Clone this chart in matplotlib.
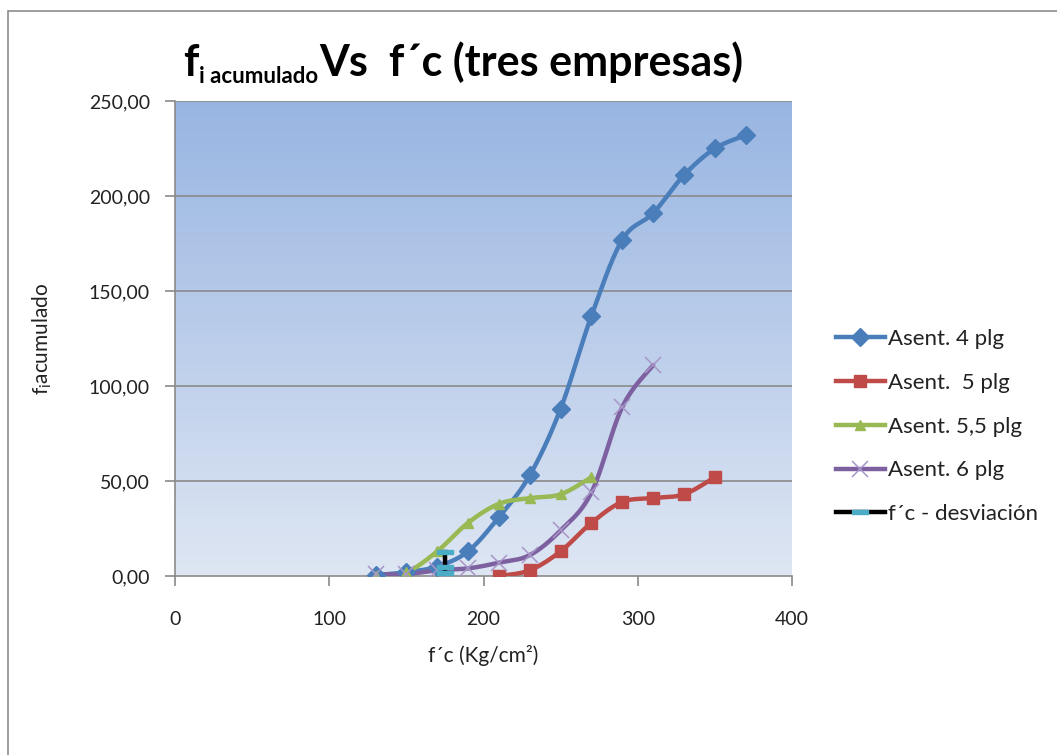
import numpy as np
import matplotlib
matplotlib.use("Agg")
import matplotlib.pyplot as plt
from matplotlib.path import Path
from matplotlib.patches import Rectangle
from matplotlib.lines import Line2D

plt.rcParams['font.family'] = ['Lato', 'DejaVu Sans']

# ---- data ----
fc_4 = [130, 150, 170, 190, 210, 230, 250, 270, 290, 310, 330, 350, 370]
fi_4 = [0.5, 2, 5, 13, 31, 53, 88, 137, 177, 191, 211, 225, 232]

fc_5 = [210, 230, 250, 270, 290, 310, 330, 350]
fi_5 = [0, 3, 13, 28, 39, 41, 43, 52]

fc_55 = [130, 150, 170, 190, 210, 230, 250, 270]
fi_55 = [0, 2, 13, 28, 38, 41, 43, 52]

fc_6 = [130, 150, 170, 190, 210, 230, 250, 270, 290, 310]
fi_6 = [1, 1, 3, 4, 7, 11, 24, 44, 89, 111]

fc_desv = [175, 175, 175]
fi_desv = [12.5, 4.5, 1.5]

labels = ["Asent. 4 plg", "Asent.  5 plg", "Asent. 5,5 plg", "Asent. 6 plg", "f\u00b4c - desviaci\u00f3n"]
x_ticks = [0, 100, 200, 300, 400]
y_ticks = [0, 50, 100, 150, 200, 250]
y_tick_labels = ["0,00", "50,00", "100,00", "150,00", "200,00", "250,00"]

TXT = '#222222'
GRID = '#8a8a8a'


def smooth(xs, ys, n=24):
    """Catmull-Rom curve through the points (spreadsheet-style smoothed line)."""
    p = np.column_stack([xs, ys]).astype(float)
    if len(p) < 3:
        return p[:, 0], p[:, 1]
    ext = np.vstack([p[0], p, p[-1]])
    out = []
    t = np.linspace(0, 1, n, endpoint=False)[:, None]
    for i in range(1, len(ext) - 2):
        p0, p1, p2, p3 = ext[i - 1], ext[i], ext[i + 1], ext[i + 2]
        seg = 0.5 * ((2 * p1) + (-p0 + p2) * t + (2 * p0 - 5 * p1 + 4 * p2 - p3) * t ** 2
                     + (-p0 + 3 * p1 - 3 * p2 + p3) * t ** 3)
        out.append(seg)
    out.append(p[-1][None, :])
    out = np.vstack(out)
    return out[:, 0], out[:, 1]


fig = plt.figure(figsize=(10.57, 7.55), dpi=100)
fig.patch.set_facecolor('white')

# outer chart frame
fig.add_artist(Rectangle((8 / 1057, -0.05), 1.2, 1 - 11 / 755 + 0.05, transform=fig.transFigure,
                         fill=False, edgecolor='#8c8c8c', linewidth=1.2))

ax = fig.add_axes([175 / 1057, 1 - 576 / 755, (792 - 175) / 1057, (576 - 101) / 755])

# gradient plot area
top = np.array([0x98, 0xB5, 0xE2]) / 255
bot = np.array([0xDE, 0xE6, 0xF3]) / 255
g = np.linspace(0, 1, 256)[:, None]
grad = (top[None, :] * (1 - g) + bot[None, :] * g)[:, None, :]
ax.imshow(grad, extent=[0, 1, 0, 1], transform=ax.transAxes, aspect='auto', zorder=0)

ax.set_xlim(0, 400)
ax.set_ylim(0, 250)

for yv in y_ticks[1:]:
    ax.axhline(yv, color=GRID, lw=1.2, zorder=1)

lw = 3.2
# Asent. 4 plg
sx, sy = smooth(fc_4, fi_4)
ax.plot(sx, sy, color='#4A7EBB', lw=lw, zorder=3, solid_capstyle='round')
ax.plot(fc_4, fi_4, ls='none', marker='D', ms=9, color='#4A7EBB', zorder=3.1)
# Asent. 5 plg
sx, sy = smooth(fc_5, fi_5)
ax.plot(sx, sy, color='#BE4B48', lw=lw, zorder=3, solid_capstyle='round')
ax.plot(fc_5, fi_5, ls='none', marker='s', ms=8, color='#BE4B48', zorder=3.1)
# Asent. 5,5 plg
sx, sy = smooth(fc_55, fi_55)
ax.plot(sx, sy, color='#98B954', lw=lw, zorder=3, solid_capstyle='round')
ax.plot(fc_55, fi_55, ls='none', marker='^', ms=7, color='#98B954', zorder=3.1)
# Asent. 6 plg
sx, sy = smooth(fc_6, fi_6)
ax.plot(sx, sy, color='#7D60A0', lw=lw, zorder=3, solid_capstyle='round')
ax.plot(fc_6, fi_6, ls='none', marker='x', ms=12, mew=1.1, color='#A896C8', zorder=3.1)

# f'c - desviacion
dash = Path([(-1, -0.32), (1, -0.32), (1, 0.32), (-1, 0.32), (-1, -0.32)],
            [Path.MOVETO, Path.LINETO, Path.LINETO, Path.LINETO, Path.CLOSEPOLY])
ax.plot(fc_desv, fi_desv, color='black', lw=lw, zorder=4)
ax.plot(fc_desv, fi_desv, ls='none', marker=dash, ms=11, color='#4BACC6', mec='#4BACC6', zorder=4.1)

# legend
handles = [
    Line2D([], [], color='#4A7EBB', lw=lw, marker='D', ms=9),
    Line2D([], [], color='#BE4B48', lw=lw, marker='s', ms=8),
    Line2D([], [], color='#98B954', lw=lw, marker='^', ms=7),
    Line2D([], [], color='#7D60A0', lw=lw, marker='x', ms=12, mec='#A896C8', mew=1.1),
    Line2D([], [], color='black', lw=lw, marker=dash, ms=11, mfc='#4BACC6', mec='#4BACC6'),
]
fig.legend(handles, labels, loc='upper left', bbox_to_anchor=(836 / 1057, 1 - 329 / 755),
           frameon=False, fontsize=16, handlelength=2.2, handletextpad=0.15,
           labelspacing=1.07, borderaxespad=0, borderpad=0, labelcolor=TXT)

# axes styling
for s in ['top', 'right']:
    ax.spines[s].set_visible(False)
for s in ['left', 'bottom']:
    ax.spines[s].set_color(GRID)
    ax.spines[s].set_linewidth(1.2)
ax.set_xticks(x_ticks)
ax.set_xticklabels([str(v) for v in x_ticks])
ax.set_yticks(y_ticks)
ax.set_yticklabels(y_tick_labels)
ax.tick_params(axis='both', direction='out', length=7, width=1.2, color=GRID,
               labelsize=14, labelcolor=TXT)
ax.tick_params(axis='x', pad=18)
ax.tick_params(axis='y', pad=11)

ax.set_xlabel("f\u00b4c (Kg/cm\u00b2)", fontsize=15, color=TXT)
ax.xaxis.set_label_coords((483 - 175) / 617, (576 - 645) / 475)
ax.set_ylabel(r"f$_\mathregular{i}$acumulado", fontsize=15, color=TXT)
ax.yaxis.set_label_coords((54 - 175) / 617, 0.5)

# title assembled from pieces so the subscript sits lower and smaller
fig.canvas.draw()
r = fig.canvas.get_renderer()
x0 = 183
base = 755 - 76
t1 = fig.text(x0 / 1057, base / 755, "f", fontsize=31, fontweight='bold', va='baseline', ha='left')
w1 = t1.get_window_extent(r).x1
t2 = fig.text((w1 + 1) / 1057, (base - 7) / 755, "i acumulado", fontsize=16, fontweight='bold',
              va='baseline', ha='left')
w2 = t2.get_window_extent(r).x1
t3 = fig.text((w2 + 1) / 1057, base / 755, "Vs  f\u00b4c (tres empresas)", fontsize=31,
              fontweight='bold', va='baseline', ha='left')

fig.savefig("out.png", dpi=100)
